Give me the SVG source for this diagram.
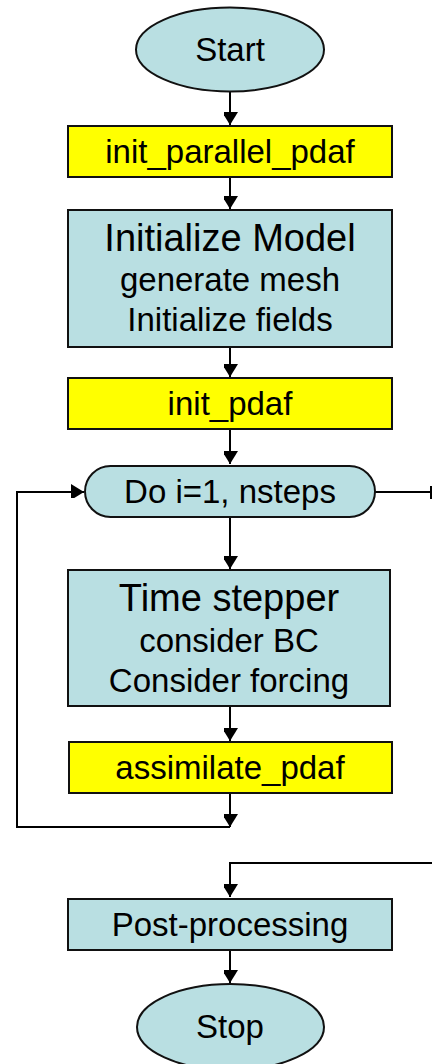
<svg xmlns="http://www.w3.org/2000/svg" width="432" height="1064" viewBox="0 0 432 1064">
<defs>
<marker id="ah" markerUnits="userSpaceOnUse" markerWidth="18" markerHeight="14" refX="13" refY="8" orient="auto">
<path d="M0,0 L13,8 L0,16 Z" fill="#000"/>
</marker>
<style>
.b{fill:#b9dfe2;stroke:#111;stroke-width:2}
.y{fill:#ffff00;stroke:#111;stroke-width:2}
.t{font-family:"Liberation Sans",Arial,sans-serif;font-size:33px;fill:#000;text-anchor:middle}
.big{font-size:38px}
.c{fill:none;stroke:#000;stroke-width:2}
</style>
</defs>
<rect width="432" height="1064" fill="#fff"/>
<g id="connectors">
<line class="c" x1="230" y1="92" x2="230" y2="125" marker-end="url(#ah)"/>
<line class="c" x1="230" y1="177" x2="230" y2="209" marker-end="url(#ah)"/>
<line class="c" x1="230" y1="347" x2="230" y2="377" marker-end="url(#ah)"/>
<line class="c" x1="230" y1="429" x2="230" y2="464" marker-end="url(#ah)"/>
<line class="c" x1="230" y1="518" x2="230" y2="569" marker-end="url(#ah)"/>
<line class="c" x1="230" y1="706" x2="230" y2="741" marker-end="url(#ah)"/>
<line class="c" x1="230" y1="793" x2="230" y2="827" marker-end="url(#ah)"/>
<polyline class="c" points="230,827 17,827 17,492 84,492" marker-end="url(#ah)"/>
<line class="c" x1="375" y1="492" x2="431" y2="492"/>
<line class="c" x1="431" y1="486" x2="431" y2="499"/>
<polyline class="c" points="432,863 230,863 230,897" marker-end="url(#ah)"/>
<line class="c" x1="230" y1="950" x2="230" y2="983" marker-end="url(#ah)"/>
</g>
<g id="start">
<ellipse class="b" cx="230" cy="49.5" rx="94" ry="42"/>
<text class="t" x="230" y="61">Start</text>
</g>
<g id="init_parallel_pdaf">
<rect class="y" x="68" y="126" width="324" height="51"/>
<text class="t" x="230" y="163">init_parallel_pdaf</text>
</g>
<g id="initialize_model">
<rect class="b" x="68" y="210" width="324" height="137"/>
<text class="t big" x="230" y="251">Initialize Model</text>
<text class="t" x="230" y="291">generate mesh</text>
<text class="t" x="230" y="331">Initialize fields</text>
</g>
<g id="init_pdaf">
<rect class="y" x="68" y="378" width="324" height="51"/>
<text class="t" x="230" y="415">init_pdaf</text>
</g>
<g id="do_loop">
<rect class="b" x="85" y="466" width="290" height="51" rx="25.5" ry="25.5"/>
<text class="t" x="230" y="503">Do i=1, nsteps</text>
</g>
<g id="time_stepper">
<rect class="b" x="68" y="570" width="322" height="136"/>
<text class="t big" x="229" y="611">Time stepper</text>
<text class="t" x="229" y="652">consider BC</text>
<text class="t" x="229" y="692">Consider forcing</text>
</g>
<g id="assimilate_pdaf">
<rect class="y" x="69" y="742" width="323" height="51"/>
<text class="t" x="230" y="779">assimilate_pdaf</text>
</g>
<g id="post_processing">
<rect class="b" x="68" y="899" width="324" height="51"/>
<text class="t" x="230" y="936">Post-processing</text>
</g>
<g id="stop">
<ellipse class="b" cx="230.5" cy="1027" rx="93.5" ry="43"/>
<text class="t" x="230" y="1038">Stop</text>
</g>
</svg>
